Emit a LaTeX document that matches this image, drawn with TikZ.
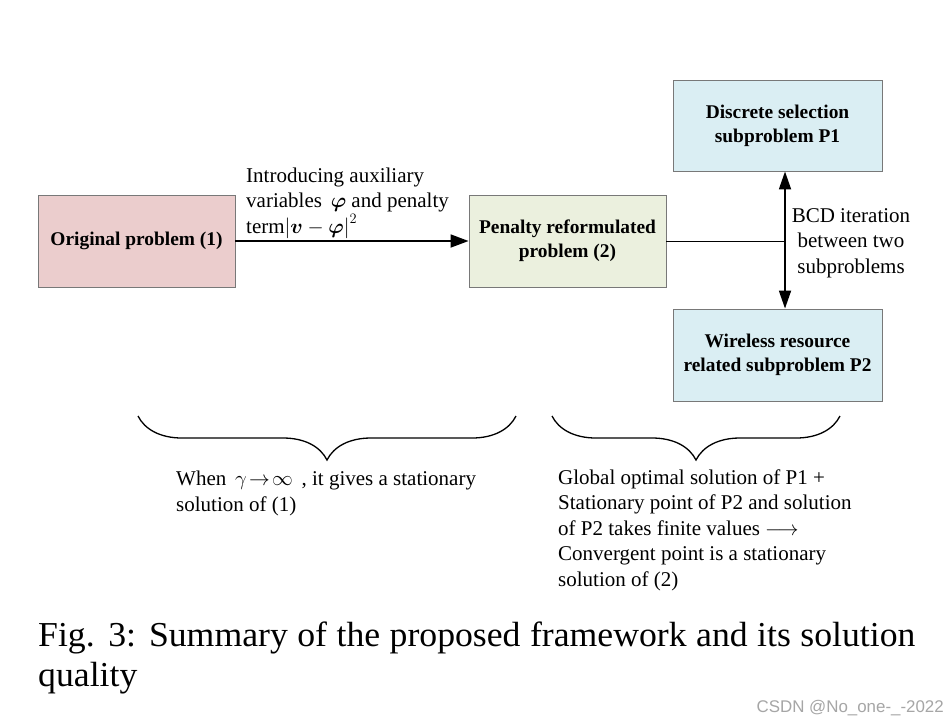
\documentclass[tikz,border=0pt]{standalone}
\usepackage{bm}
\usepackage{fontspec}
\setmainfont{Liberation Serif}
\newfontfamily\wmfont{Liberation Sans}
\usetikzlibrary{arrows.meta,decorations.pathreplacing}
\definecolor{pinkfill}{RGB}{235,205,205}
\definecolor{greenfill}{RGB}{235,240,222}
\definecolor{bluefill}{RGB}{218,238,243}
\definecolor{boxline}{RGB}{120,120,120}
\tikzset{
  probbox/.style={draw=boxline, line width=0.9pt, align=center, inner sep=0pt,
    font=\fontsize{19.4}{24}\selectfont\bfseries},
  bodytext/.style={align=left, inner sep=0pt, font=\fontsize{21}{25.5}\selectfont},
  mainarrow/.style={line width=1.8pt, -{Triangle[length=18pt,width=13pt]}},
  botharrow/.style={line width=1.8pt, {Triangle[length=18pt,width=12pt]}-{Triangle[length=18pt,width=12pt]}},
  thinline/.style={line width=0.8pt},
  bracestyle/.style={line width=1.3pt, decorate, decoration={brace, mirror, amplitude=44pt, aspect=0.5}}
}
\begin{document}
\begin{tikzpicture}[x=1pt, y=-1pt]
\useasboundingbox[fill=white] (0,0) rectangle (949,721);
% boxes
\node[probbox, fill=pinkfill, minimum width=197pt, minimum height=92pt] (orig) at (136.5,241) {Original problem (1)};
\node[probbox, fill=greenfill, minimum width=197pt, minimum height=92pt] (pen) at (567.5,241) {Penalty reformulated\\problem (2)};
\node[probbox, fill=bluefill, minimum width=209pt, minimum height=91pt] (p1) at (777.5,125.5) {Discrete selection\\subproblem P1};
\node[probbox, fill=bluefill, minimum width=209pt, minimum height=92pt] (p2) at (777.5,355) {Wireless resource\\related subproblem P2};
% connectors
\draw[mainarrow] (orig.east) -- (pen.west);
\coordinate (J) at (785,241);
\draw[thinline] (pen.east) -- (J);
\draw[botharrow] (p1.south -| J) -- (p2.north -| J);
% labels
\node[bodytext, anchor=base west] (intro) at (246,233) {Introducing auxiliary\\variables \,$\bm{\varphi}$ and penalty\\term$\left|\bm{v}-\bm{\varphi}\right|^{2}$};
\node[bodytext, align=center, anchor=base] (bcd) at (851,273) {BCD iteration\\between two\\subproblems};
% braces
\coordinate (b1s) at (138,416);
\coordinate (b1e) at (516,416);
\coordinate (b2s) at (552,416);
\coordinate (b2e) at (840,416);
\draw[bracestyle] (b1s) -- (b1e);
\draw[bracestyle] (b2s) -- (b2e);
\node[bodytext, anchor=base west] (left) at (176,511) {When \,$\gamma\!\rightarrow\!\infty$\, , it gives a stationary\\solution of (1)};
\node[bodytext, anchor=base west] (right) at (558,586) {Global optimal solution of P1 +\\Stationary point of P2 and solution\\of P2 takes finite values $\longrightarrow$\\Convergent point is a stationary\\solution of (2)};
% caption
\node[anchor=base west, inner sep=0pt, font=\fontsize{35}{35}\selectfont] (cap1) at (38,646) {\scalebox{1.02}[1]{\makebox[860pt][s]{Fig. 3: Summary of the proposed framework and its solution}}};
\node[anchor=base west, inner sep=0pt, font=\fontsize{35}{35}\selectfont] (cap2) at (38,686) {\scalebox{1.02}[1]{quality}};
\node[anchor=base east, inner sep=0pt, text=black!35, font=\wmfont\fontsize{16.9}{16.9}\selectfont] (wm) at (944,712) {CSDN @No\_one-\_-2022};
\end{tikzpicture}
\end{document}
